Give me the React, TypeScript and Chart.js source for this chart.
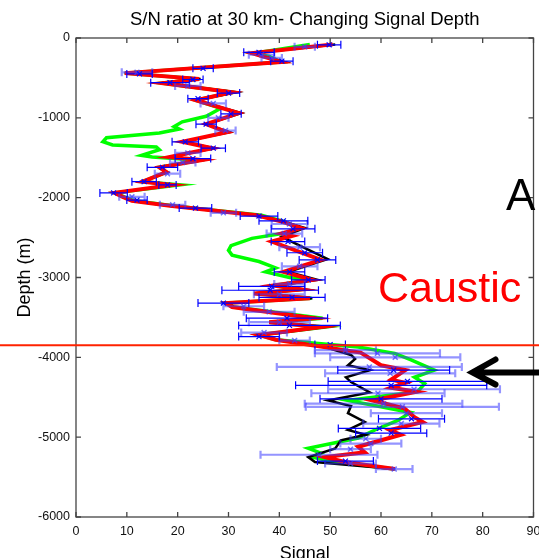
import { useEffect, useRef } from "react";
import { Chart, registerables } from "chart.js";
Chart.register(...registerables);

// ---- data ----
const chartTitle = "S/N ratio at 30 km- Changing Signal Depth";
const xTicksMin = 0;
const xTicksMax = 90;
const yTicksMin = -6000;
const yTicksMax = 0;

const redDepth = [-80, -190, -300, -440, -515, -565, -680, -780, -940, -1080, -1180, -1300, -1380, -1490, -1530, -1620, -1680, -1800, -1840, -1940, -1990, -2040, -2100, -2160, -2220, -2300, -2380, -2450, -2480, -2550, -2780, -2930, -3030, -3100, -3150, -3200, -3260, -3320, -3370, -3510, -3560, -3620, -3720, -3780, -3940, -4100, -4160, -4280, -4320, -4380, -4430, -4540, -4640, -4750, -4810, -4910, -4970, -5120, -5190, -5250, -5310, -5400];
const redSignal = [50.5, 34.6, 40.4, 9.6, 24.2, 17, 30.7, 23.6, 32, 25.6, 29.7, 20.9, 26.8, 18.4, 24.8, 16.4, 17.8, 13.1, 19, 7.6, 9.2, 11, 18.5, 27, 35.5, 40.5, 44.3, 40.4, 42.5, 38.5, 48.2, 40.8, 46.5, 38.8, 44.3, 35, 46, 29.5, 30.7, 46.8, 38, 48.2, 36, 39.3, 56, 60, 64.8, 62, 64.8, 62, 67, 58.3, 64.6, 66.6, 68.2, 61.8, 63.9, 55.5, 56.8, 49, 52.9, 62.7];

const blackDepth = [-80, -190, -300, -440, -515, -565, -680, -780, -940, -1080, -1180, -1300, -1380, -1490, -1530, -1620, -1680, -1800, -1840, -1940, -1990, -2040, -2100, -2160, -2220, -2300, -2380, -2490, -2550, -2770, -2930, -3030, -3100, -3150, -3200, -3260, -3320, -3370, -3510, -3560, -3620, -3720, -3780, -3870, -3970, -4020, -4100, -4160, -4250, -4310, -4440, -4540, -4610, -4700, -4810, -4910, -4970, -5040, -5140, -5250, -5310, -5400];
const blackSignal = [51, 34.6, 41, 9.6, 24.5, 17, 31.5, 23.6, 32.5, 25.6, 30.2, 20.9, 27.2, 18.4, 25, 16.4, 17.8, 13.1, 19.2, 7.6, 9.2, 11, 18.5, 27, 36, 40.8, 45, 40.5, 42.4, 49.5, 41.8, 47.5, 39.5, 45, 35.5, 46.5, 30, 31, 47.5, 38.5, 49, 36.5, 39.5, 49, 54.1, 54.9, 53.5, 57.8, 53.1, 54.1, 57.8, 49.6, 54.1, 53.5, 56.8, 53.5, 57, 52.1, 51, 45.7, 47, 62.7];

const greenDepth = [-80, -190, -230, -300, -440, -515, -565, -680, -780, -880, -980, -1050, -1110, -1140, -1190, -1250, -1300, -1340, -1365, -1400, -1470, -1490, -1530, -1620, -1680, -1800, -1840, -1940, -1990, -2040, -2100, -2160, -2220, -2300, -2380, -2430, -2510, -2600, -2660, -2720, -2800, -2880, -2930, -3000, -3030, -3100, -3150, -3200, -3260, -3320, -3370, -3510, -3560, -3620, -3720, -3780, -3870, -3950, -4030, -4160, -4250, -4330, -4430, -4540, -4690, -4790, -4910, -5010, -5140, -5200, -5250, -5310, -5400];
const greenSignal = [46, 35, 38, 40.4, 9.6, 24.2, 17, 30.7, 23.6, 28.5, 25.6, 20.9, 19.3, 20.3, 16.4, 6, 5.3, 7.2, 15.8, 16.4, 12.9, 15, 24.5, 16.4, 17.8, 13.1, 20.5, 7.6, 9.5, 11.5, 19, 27.5, 36.5, 41, 44, 42.4, 34.6, 30.5, 30, 30.7, 36, 39.3, 37.3, 42, 46, 39, 44, 35.5, 46.3, 29.5, 31, 48.5, 38, 49, 36, 39.3, 55.5, 62.7, 65.8, 70.5, 66.6, 68.6, 67.2, 53.5, 65.8, 63.3, 58.8, 55.5, 45.7, 48.2, 46.5, 51, 62.7];

// error bars, set A (dark blue)
const errADepth = [-85, -180, -290, -380, -450, -520, -560, -690, -760, -950, -1080, -1300, -1380, -1510, -1620, -1800, -1840, -1940, -2030, -2130, -2230, -2290, -2390, -2550, -2690, -2780, -2930, -3030, -3110, -3160, -3250, -3320, -3510, -3600, -3740, -3840, -4160, -4300, -4350, -4520, -4770, -4890, -4950, -5300];
const errAMean = [49.8, 36, 40.5, 25, 12.5, 23, 18.5, 30, 24, 30.5, 25.6, 21.5, 27, 23, 17, 13.4, 18, 7.4, 12, 23.5, 36, 40.8, 42.7, 41.7, 45, 47.5, 42, 45.7, 38.5, 38.2, 42.5, 29, 41.5, 42, 36, 50, 62.5, 65.2, 62, 60, 66, 59.7, 62, 53];
const errAHalf = [2.3, 3, 2.2, 2, 2.5, 2, 3.8, 2.2, 2, 2, 2, 2.6, 2.4, 3.5, 3, 2.4, 1.7, 2.7, 2, 3.2, 3.7, 4.8, 4.3, 3.3, 3.5, 3.6, 3, 3.3, 6.5, 9.5, 6.5, 5, 8, 10, 4, 3, 11, 15.6, 18.8, 12, 6.5, 8.1, 7, 5.5];

// error bars, set B (light blue)
const errBDepth = [-110, -210, -250, -430, -600, -820, -1000, -1160, -1440, -1560, -1700, -1990, -2090, -2190, -2330, -2450, -2620, -2860, -3080, -3210, -3360, -3430, -3560, -3690, -3790, -3910, -3950, -4000, -4120, -4200, -4400, -4450, -4580, -4620, -4700, -4830, -5020, -5080, -5150, -5220, -5330, -5400];
const errBMean = [45, 36.5, 38.5, 12, 22, 27, 28, 29.4, 22, 21, 18, 11, 19, 29, 42, 41, 44, 44, 42, 40, 33, 38, 40, 37, 43, 53, 59.3, 62.8, 57.7, 61.8, 66.5, 59.4, 60.5, 64.2, 65, 64, 57, 58, 54, 47.8, 54, 62.6];
const errBHalf = [2, 2.5, 2, 3, 2.5, 2.5, 2, 2, 2.5, 2.5, 2.5, 2.5, 2.5, 2.5, 3.5, 3.5, 4, 3.5, 3, 5, 4, 5, 6, 4.5, 3, 6, 12.3, 12.8, 18.2, 12.8, 16.9, 13.1, 15.5, 19, 7, 7.5, 3, 6, 4, 11.5, 5, 3.6];

const causticDepth = -3850;
const labelA = { text: "A", signal: 84.6, depth: -2000 };
const labelCaustic = { text: "Caustic", signal: 59.4, depth: -3160 };
const arrowTip = { signal: 78, depth: -4190 };

const FONT = "'Liberation Sans', Arial, Helvetica, sans-serif";

const pts = (xs: number[], ys: number[]) => xs.map((x, i) => ({ x, y: ys[i] }));

export default function App() {
  const ref = useRef<HTMLCanvasElement>(null);

  useEffect(() => {
    document.body.style.margin = "0";
    const canvas = ref.current!;

    const errorBars = {
      id: "errorBars",
      afterDatasetDraw(chart: any, args: any) {
        if (args.index !== 2) return;
        const { ctx, chartArea } = chart;
        const xs = chart.scales.x;
        const ys = chart.scales.y;
        ctx.save();
        ctx.beginPath();
        ctx.rect(chartArea.left, chartArea.top, chartArea.right - chartArea.left, chartArea.bottom - chartArea.top);
        ctx.clip();
        const drawSet = (depths: number[], means: number[], halves: number[], color: string, w: number) => {
          ctx.strokeStyle = color;
          ctx.lineWidth = w;
          depths.forEach((d, i) => {
            const py = ys.getPixelForValue(d);
            const x0 = xs.getPixelForValue(means[i] - halves[i]);
            const x1 = xs.getPixelForValue(means[i] + halves[i]);
            ctx.beginPath();
            ctx.moveTo(x0, py);
            ctx.lineTo(x1, py);
            ctx.moveTo(x0, py - 4);
            ctx.lineTo(x0, py + 4);
            ctx.moveTo(x1, py - 4);
            ctx.lineTo(x1, py + 4);
            ctx.stroke();
          });
        };
        drawSet(errBDepth, errBMean, errBHalf, "rgba(60,60,255,0.55)", 2.2);
        drawSet(errADepth, errAMean, errAHalf, "#0000ff", 1.2);
        ctx.restore();
      },
    };

    const overlay = {
      id: "overlay",
      afterDraw(chart: any) {
        const { ctx, chartArea } = chart;
        const xs = chart.scales.x;
        const ys = chart.scales.y;
        const { left, right, top, bottom } = chartArea;
        ctx.save();
        // title, centred over the plot area
        ctx.fillStyle = "#000";
        ctx.font = `18.5px ${FONT}`;
        ctx.textAlign = "center";
        ctx.textBaseline = "middle";
        ctx.fillText(chartTitle, (left + right) / 2, 20);
        // box
        ctx.strokeStyle = "#444";
        ctx.lineWidth = 1.3;
        ctx.strokeRect(left, top, right - left, bottom - top);
        // inner ticks
        ctx.beginPath();
        xs.ticks.forEach((t: any) => {
          const px = xs.getPixelForValue(t.value);
          ctx.moveTo(px, bottom);
          ctx.lineTo(px, bottom - 5);
          ctx.moveTo(px, top);
          ctx.lineTo(px, top + 5);
        });
        ys.ticks.forEach((t: any) => {
          const py = ys.getPixelForValue(t.value);
          ctx.moveTo(left, py);
          ctx.lineTo(left + 5, py);
          ctx.moveTo(right, py);
          ctx.lineTo(right - 5, py);
        });
        ctx.stroke();
        // caustic line
        const cy = ys.getPixelForValue(causticDepth);
        ctx.strokeStyle = "#ff2200";
        ctx.lineWidth = 2;
        ctx.beginPath();
        ctx.moveTo(0, cy);
        ctx.lineTo(chart.width, cy);
        ctx.stroke();
        // texts
        ctx.textBaseline = "middle";
        ctx.textAlign = "left";
        ctx.fillStyle = "#000";
        ctx.font = `44px ${FONT}`;
        ctx.fillText(labelA.text, xs.getPixelForValue(labelA.signal), ys.getPixelForValue(labelA.depth));
        ctx.fillStyle = "#ff0000";
        ctx.font = `43px ${FONT}`;
        ctx.fillText(labelCaustic.text, xs.getPixelForValue(labelCaustic.signal), ys.getPixelForValue(labelCaustic.depth));
        // arrow
        const tx = xs.getPixelForValue(arrowTip.signal);
        const ty = ys.getPixelForValue(arrowTip.depth);
        ctx.strokeStyle = "#000";
        ctx.lineWidth = 6;
        ctx.lineCap = "round";
        ctx.beginPath();
        ctx.moveTo(chart.width + 5, ty);
        ctx.lineTo(tx + 2, ty);
        ctx.moveTo(tx + 23, ty - 13);
        ctx.lineTo(tx, ty);
        ctx.lineTo(tx + 23, ty + 12);
        ctx.stroke();
        ctx.restore();
      },
    };

    const tickFont = { family: FONT, size: 12.5 };
    const chart = new Chart(canvas, {
      type: "scatter",
      data: {
        datasets: [
          {
            data: pts(errAMean, errADepth),
            pointStyle: "crossRot",
            pointRadius: 3.5,
            borderColor: "#0000ff",
            backgroundColor: "#0000ff",
            borderWidth: 1.2,
            showLine: false,
          },
          {
            data: pts(errBMean, errBDepth),
            pointStyle: "crossRot",
            pointRadius: 3.5,
            borderColor: "rgba(60,60,255,0.7)",
            backgroundColor: "rgba(60,60,255,0.7)",
            borderWidth: 1.5,
            showLine: false,
          },
          {
            data: pts(redSignal, redDepth),
            borderColor: "#ff0000",
            borderWidth: 4,
            pointRadius: 0,
            showLine: true,
            tension: 0,
          },
          {
            data: pts(blackSignal, blackDepth),
            borderColor: "#000000",
            borderWidth: 2.5,
            pointRadius: 0,
            showLine: true,
            tension: 0,
          },
          {
            data: pts(greenSignal, greenDepth),
            borderColor: "#00ff00",
            borderWidth: 3.5,
            pointRadius: 0,
            showLine: true,
            tension: 0,
          },
        ],
      },
      options: {
        animation: false,
        responsive: false,
        maintainAspectRatio: false,
        layout: { padding: { left: 0, right: 2, top: 38, bottom: 0 } },
        plugins: {
          legend: { display: false },
          tooltip: { enabled: false },
          title: { display: false },
        },
        scales: {
          x: {
            type: "linear",
            min: xTicksMin,
            max: xTicksMax,
            ticks: { stepSize: 10, font: tickFont, color: "#111", padding: 7, maxRotation: 0, callback: (v: any) => String(v) },
            grid: { display: false, drawTicks: false },
            border: { display: false },
            title: {
              display: true,
              text: "Signal",
              color: "#000",
              font: { family: FONT, size: 18 },
              padding: { top: 0, bottom: -7 },
            },
            afterFit: (s: any) => {
              s.height = 41;
              s.paddingLeft = 0;
              s.paddingRight = 0;
            },
          },
          y: {
            type: "linear",
            min: yTicksMin,
            max: yTicksMax,
            ticks: { stepSize: 1000, font: tickFont, color: "#111", padding: 6, callback: (v: any) => String(v) },
            grid: { display: false, drawTicks: false },
            border: { display: false },
            title: {
              display: true,
              text: "Depth (m)",
              color: "#000",
              font: { family: FONT, size: 18 },
              padding: { top: 14, bottom: 0 },
            },
            afterFit: (s: any) => {
              s.width = 76;
              s.paddingTop = 0;
              s.paddingBottom = 0;
            },
          },
        },
      },
      plugins: [errorBars, overlay],
    } as any);
    return () => chart.destroy();
  }, []);

  return (
    <div style={{ width: 539, height: 558, background: "#fff", overflow: "hidden" }}>
      <canvas ref={ref} width={539} height={558} style={{ display: "block", width: 539, height: 558 }} />
    </div>
  );
}
